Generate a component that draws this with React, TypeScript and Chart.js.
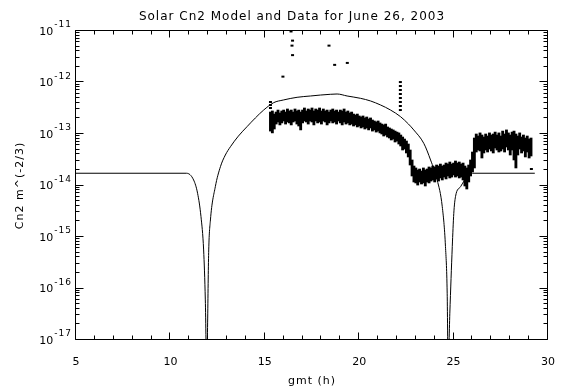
import React, { useEffect, useRef } from "react";
import { Chart, registerables } from "chart.js";

Chart.register(...registerables);

const TITLE = "Solar Cn2 Model and Data for June 26, 2003";
const X_TITLE = "gmt (h)";
const Y_TITLE = "Cn2 m^(-2/3)";

const xTickValues = [5, 10, 15, 20, 25, 30];
const yTickValues = [1e-17, 1e-16, 1e-15, 1e-14, 1e-13, 1e-12, 1e-11];
const yTickExponents = ["-17", "-16", "-15", "-14", "-13", "-12", "-11"];

// Model curve (gmt hours, Cn2)
const modelTimes = [
  5.0, 10.85, 11.23, 11.44, 11.62, 11.76, 11.85, 11.92, 12.03, 12.12, 12.38, 12.65, 12.91, 13.18, 13.6,
  14.06, 14.5, 14.94, 15.47, 15.98, 16.71, 17.42, 17.95, 18.47, 18.83, 19.36, 20.07, 20.6, 21.13, 21.66,
  22.19, 22.61, 22.89, 23.42, 23.78, 24.13, 24.4, 24.57, 24.66, 24.71, 24.8, 24.93, 25.01, 25.1, 25.37,
  25.72, 25.99, 29.3,
];
const modelCn2 = [
  1.73e-14, 1.73e-14, 1.28e-14, 7.06e-15, 2.48e-15, 5.6e-16, 6.0e-17, 3e-18, 5.6e-16, 2.14e-15, 9.5e-15, 2.32e-14, 3.91e-14, 5.66e-14, 9.1e-14,
  1.39e-13, 2.05e-13, 2.92e-13, 4.06e-13, 4.57e-13, 5.16e-13, 5.47e-13, 5.71e-13, 5.9e-13, 5.98e-13, 5.47e-13, 4.93e-13, 4.38e-13, 3.66e-13, 2.92e-13,
  2.17e-13, 1.56e-13, 1.2e-13, 6.59e-14, 3.13e-14, 1.28e-14, 3.87e-15, 6.5e-16, 8.1e-17, 3e-18, 3.3e-17, 6.5e-16, 2.88e-15, 6.07e-15, 9.5e-15,
  1.48e-14, 1.73e-14, 1.73e-14,
];

// Measured data: per time column, upper and lower extent of the dense band
const bandTimes = [
  15.3, 15.4, 15.5, 15.6, 15.7, 15.8, 15.9, 16.0, 16.1, 16.2, 16.3, 16.4, 16.5, 16.6, 16.7, 16.8, 16.9,
  17.0, 17.1, 17.2, 17.3, 17.4, 17.5, 17.6, 17.7, 17.8, 17.9, 18.0, 18.1, 18.2, 18.3, 18.4, 18.5, 18.6,
  18.7, 18.8, 18.9, 19.0, 19.1, 19.2, 19.3, 19.4, 19.5, 19.6, 19.7, 19.8, 19.9, 20.0, 20.1, 20.2, 20.3,
  20.4, 20.5, 20.6, 20.7, 20.8, 20.9, 21.0, 21.1, 21.2, 21.3, 21.4, 21.5, 21.6, 21.7, 21.8, 21.9, 22.0,
  22.1, 22.2, 22.3, 22.4, 22.5, 22.6, 22.7, 22.8, 22.9, 23.0, 23.1, 23.2, 23.3, 23.4, 23.5, 23.6, 23.7,
  23.8, 23.9, 24.0, 24.1, 24.2, 24.3, 24.4, 24.5, 24.6, 24.7, 24.8, 24.9, 25.0, 25.1, 25.2, 25.3, 25.4,
  25.5, 25.6, 25.7, 25.8, 25.9, 26.0, 26.1, 26.2, 26.3, 26.4, 26.5, 26.6, 26.7, 26.8, 26.9, 27.0, 27.1,
  27.2, 27.3, 27.4, 27.5, 27.6, 27.7, 27.8, 27.9, 28.0, 28.1, 28.2, 28.3, 28.4, 28.5, 28.6, 28.7, 28.8,
  28.9, 29.0, 29.1,
];
const bandHigh = [
  2.67e-13, 2.8e-13, 2.44e-13, 2.67e-13, 2.92e-13, 2.56e-13, 2.8e-13, 2.92e-13, 2.67e-13, 3.06e-13, 2.8e-13, 2.92e-13, 2.67e-13, 3.06e-13, 2.8e-13, 2.92e-13, 2.67e-13,
  2.92e-13, 3.2e-13, 2.8e-13, 3.06e-13, 2.92e-13, 3.2e-13, 2.8e-13, 3.06e-13, 2.92e-13, 3.2e-13, 2.8e-13, 3.06e-13, 2.8e-13, 2.92e-13, 2.67e-13, 2.92e-13, 3.06e-13,
  2.8e-13, 2.92e-13, 2.67e-13, 2.92e-13, 2.8e-13, 3.06e-13, 2.67e-13, 2.8e-13, 2.56e-13, 2.67e-13, 2.44e-13, 2.34e-13, 2.44e-13, 2.24e-13, 2.14e-13, 2.24e-13, 2.05e-13,
  2.14e-13, 1.96e-13, 2.05e-13, 1.87e-13, 1.79e-13, 1.71e-13, 1.79e-13, 1.64e-13, 1.56e-13, 1.5e-13, 1.56e-13, 1.37e-13, 1.31e-13, 1.25e-13, 1.2e-13, 1.14e-13, 1.09e-13,
  1.05e-13, 9.56e-14, 8.74e-14, 7.99e-14, 7.31e-14, 6.39e-14, 4.89e-14, 3.13e-14, 2.39e-14, 2.19e-14, 2.0e-14, 2.09e-14, 1.91e-14, 2.19e-14, 2.0e-14, 2.09e-14, 2.29e-14,
  2.19e-14, 2.39e-14, 2.29e-14, 2.5e-14, 2.39e-14, 2.61e-14, 2.39e-14, 2.5e-14, 2.73e-14, 2.61e-14, 2.86e-14, 2.61e-14, 2.73e-14, 2.99e-14, 2.73e-14, 2.86e-14, 2.61e-14,
  2.73e-14, 2.39e-14, 2.19e-14, 2.5e-14, 3.13e-14, 4.47e-14, 8.36e-14, 1.0e-13, 9.14e-14, 1.05e-13, 9.56e-14, 8.74e-14, 1.0e-13, 9.14e-14, 1.05e-13, 9.56e-14, 1.0e-13,
  1.09e-13, 9.56e-14, 1.05e-13, 9.14e-14, 1.14e-13, 1.0e-13, 1.2e-13, 1.05e-13, 9.56e-14, 1.09e-13, 1.14e-13, 1.0e-13, 9.14e-14, 1.05e-13, 8.74e-14, 9.56e-14, 8.36e-14,
  9.14e-14, 7.99e-14, 8.36e-14,
];
const bandLow = [
  1.14e-13, 1.05e-13, 1.25e-13, 1.56e-13, 1.71e-13, 1.5e-13, 1.64e-13, 1.79e-13, 1.56e-13, 1.71e-13, 1.64e-13, 1.5e-13, 1.71e-13, 1.79e-13, 1.56e-13, 1.43e-13, 1.2e-13,
  1.64e-13, 1.79e-13, 1.71e-13, 1.56e-13, 1.79e-13, 1.71e-13, 1.5e-13, 1.79e-13, 1.64e-13, 1.71e-13, 1.56e-13, 1.79e-13, 1.71e-13, 1.5e-13, 1.64e-13, 1.79e-13, 1.64e-13,
  1.71e-13, 1.56e-13, 1.79e-13, 1.64e-13, 1.5e-13, 1.71e-13, 1.56e-13, 1.64e-13, 1.5e-13, 1.56e-13, 1.43e-13, 1.5e-13, 1.37e-13, 1.43e-13, 1.31e-13, 1.37e-13, 1.25e-13,
  1.31e-13, 1.2e-13, 1.31e-13, 1.14e-13, 1.2e-13, 1.09e-13, 1.14e-13, 1.05e-13, 1.0e-13, 9.14e-14, 9.56e-14, 8.74e-14, 8.36e-14, 7.65e-14, 7.99e-14, 6.99e-14, 7.31e-14,
  6.39e-14, 5.85e-14, 4.89e-14, 5.11e-14, 4.28e-14, 3.58e-14, 2.5e-14, 1.53e-14, 1.17e-14, 1.12e-14, 1.02e-14, 1.17e-14, 1.07e-14, 1.12e-14, 9.78e-15, 1.17e-14, 1.12e-14,
  1.22e-14, 1.28e-14, 1.17e-14, 1.34e-14, 1.22e-14, 1.4e-14, 1.28e-14, 1.46e-14, 1.34e-14, 1.53e-14, 1.4e-14, 1.46e-14, 1.6e-14, 1.46e-14, 1.53e-14, 1.4e-14, 1.46e-14,
  1.28e-14, 9.78e-15, 8.55e-15, 1.17e-14, 1.53e-14, 1.83e-14, 2.19e-14, 4.47e-14, 4.89e-14, 4.68e-14, 3.42e-14, 4.28e-14, 4.89e-14, 4.47e-14, 5.11e-14, 4.68e-14, 4.28e-14,
  5.35e-14, 4.89e-14, 4.47e-14, 4.68e-14, 5.11e-14, 4.47e-14, 5.59e-14, 4.89e-14, 3.91e-14, 4.89e-14, 3.13e-14, 2.19e-14, 3.91e-14, 5.11e-14, 4.28e-14, 4.68e-14, 3.58e-14,
  4.47e-14, 3.42e-14, 3.74e-14,
];

// Isolated measured points
const outlierTimes = [
  15.3, 15.3, 15.3, 15.96, 16.39, 16.44, 16.47, 16.47, 18.4, 18.7, 19.37,
  22.18, 22.18, 22.18, 22.18, 22.18, 22.18, 22.18, 22.18, 29.12,
];
const outlierCn2 = [
  4.18e-13, 3.66e-13, 3.2e-13, 1.3e-12, 9.8e-12, 5.2e-12, 6.5e-12, 3.4e-12, 5.2e-12, 2.2e-12, 2.4e-12,
  1.02e-12, 8.55e-13, 7.15e-13, 5.98e-13, 5.0e-13, 4.18e-13, 3.5e-13, 2.92e-13, 2.09e-14,
];

const FONT = '"DejaVu Sans", "Liberation Sans", sans-serif';

const idlFramePlugin = {
  id: "idlFrame",
  afterDraw(chart: any) {
    const { ctx, chartArea: a } = chart;
    const xs = chart.scales.x;
    const ys = chart.scales.y;
    const L = a.left - 0.5;
    const R = a.right - 0.5;
    const T = a.top - 0.5;
    const B = a.bottom - 0.5;
    ctx.save();
    ctx.strokeStyle = "#000";
    ctx.lineWidth = 1;
    ctx.beginPath();
    ctx.rect(L, T, R - L, B - T);
    // x ticks (inward, bottom and top)
    for (let v = xs.min; v <= xs.max; v += 1) {
      const px = Math.round(xs.getPixelForValue(v)) - 0.5;
      const len = v % 5 === 0 ? 7 : 4;
      ctx.moveTo(px, B);
      ctx.lineTo(px, B - len);
      ctx.moveTo(px, T);
      ctx.lineTo(px, T + len);
    }
    // y ticks (log, inward, left and right)
    yTickValues.forEach((dec, i) => {
      const mults = i === yTickValues.length - 1 ? [1] : [1, 2, 3, 4, 5, 6, 7, 8, 9];
      mults.forEach((m) => {
        const py = Math.round(ys.getPixelForValue(dec * m)) - 0.5;
        const len = m === 1 ? 8 : 4;
        ctx.moveTo(L, py);
        ctx.lineTo(L + len, py);
        ctx.moveTo(R, py);
        ctx.lineTo(R - len, py);
      });
    });
    ctx.stroke();

    ctx.fillStyle = "#000";
    // title
    ctx.font = `12px ${FONT}`;
    ctx.letterSpacing = "1px";
    ctx.textAlign = "center";
    ctx.textBaseline = "middle";
    ctx.fillText(TITLE, 292, 17);

    // x tick labels
    ctx.font = `11px ${FONT}`;
    ctx.letterSpacing = "0px";
    xTickValues.forEach((v) => {
      ctx.fillText(String(v), xs.getPixelForValue(v), 362);
    });
    // x title
    ctx.letterSpacing = "1px";
    ctx.fillText(X_TITLE, (a.left + a.right) / 2, 381);

    // y tick labels: 10 with superscript exponent
    yTickValues.forEach((v, i) => {
      const py = ys.getPixelForValue(v);
      ctx.textAlign = "left";
      ctx.font = `9px ${FONT}`;
      ctx.letterSpacing = "1px";
      const exp = yTickExponents[i];
      const ew = ctx.measureText(exp).width;
      const ex = 72 - ew;
      ctx.fillText(exp, ex, py - 6);
      ctx.font = `11px ${FONT}`;
      ctx.letterSpacing = "0px";
      ctx.textAlign = "right";
      ctx.fillText("10", ex - 1, py + 1);
    });

    // y title
    ctx.save();
    ctx.translate(20, (a.top + a.bottom) / 2);
    ctx.rotate(-Math.PI / 2);
    ctx.font = `11px ${FONT}`;
    ctx.letterSpacing = "1px";
    ctx.textAlign = "center";
    ctx.textBaseline = "middle";
    ctx.fillText(Y_TITLE, 0, 0);
    ctx.restore();

    ctx.restore();
  },
};

export default function App() {
  const canvasRef = useRef<HTMLCanvasElement | null>(null);

  useEffect(() => {
    const canvas = canvasRef.current;
    if (!canvas) return;
    const chart = new Chart(canvas, {
      type: "line",
      data: {
        datasets: [
          {
            type: "line",
            label: "Model",
            data: modelTimes.map((t, i) => ({ x: t, y: modelCn2[i] })),
            borderColor: "#000",
            borderWidth: 1,
            pointRadius: 0,
            fill: false,
            cubicInterpolationMode: "monotone",
            order: 0,
          },
          {
            type: "bar",
            label: "Data",
            data: bandTimes.map((t, i) => ({ x: t, y: [bandLow[i], bandHigh[i]] })),
            backgroundColor: "#000",
            borderWidth: 0,
            barThickness: 2.2,
            order: 1,
          } as any,
          {
            type: "scatter",
            label: "Data points",
            data: outlierTimes.map((t, i) => ({ x: t, y: outlierCn2[i] })),
            pointStyle: "line",
            pointRadius: 1.5,
            borderColor: "#000",
            borderWidth: 2,
            showLine: false,
            order: 2,
          },
        ],
      },
      options: {
        animation: false,
        responsive: false,
        devicePixelRatio: 1,
        events: [],
        layout: { padding: { left: 0, right: 20, top: 31, bottom: 0 } },
        plugins: {
          legend: { display: false },
          tooltip: { enabled: false },
          title: { display: false },
        },
        scales: {
          x: {
            type: "linear",
            min: 5,
            max: 30,
            offset: false,
            grid: { display: false, drawTicks: false },
            border: { display: false },
            ticks: { display: false, stepSize: 5 },
            afterFit: (s: any) => {
              s.height = 51;
            },
          },
          y: {
            type: "logarithmic",
            min: 1e-17,
            max: 1e-11,
            grid: { display: false, drawTicks: false },
            border: { display: false },
            ticks: { display: false },
            afterFit: (s: any) => {
              s.width = 76;
            },
          },
        },
      } as any,
      plugins: [idlFramePlugin],
    });
    return () => chart.destroy();
  }, []);

  return (
    <div style={{ position: "fixed", left: 0, top: 0, width: 568, height: 391, background: "#fff" }}>
      <canvas ref={canvasRef} width={568} height={391} style={{ width: 568, height: 391, display: "block" }} />
    </div>
  );
}
